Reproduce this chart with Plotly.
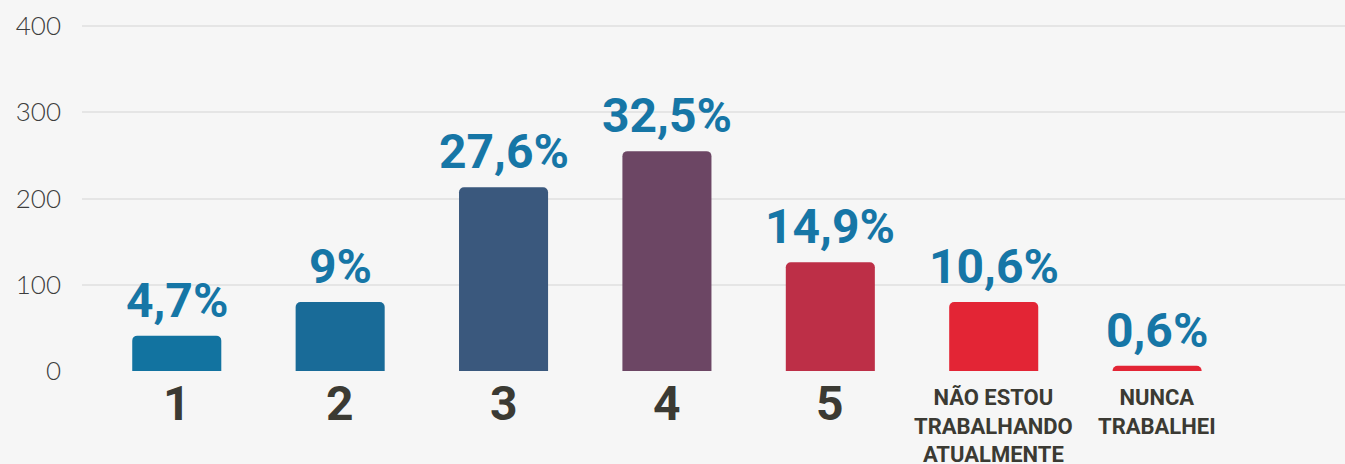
import plotly.graph_objects as go

# ---- data ----
cat_ids = ["c1", "c2", "c3", "c4", "c5", "nao", "nunca"]
cat_labels = ["1", "2", "3", "4", "5",
              "NÃO ESTOU<br>TRABALHANDO<br>ATUALMENTE",
              "NUNCA<br>TRABALHEI"]
values = [41, 80, 213, 255, 126, 80, 6]
pct_labels = ["4,7%", "9%", "27,6%", "32,5%", "14,9%", "10,6%", "0,6%"]
bar_colors = ["#1273a0", "#196b98", "#3a587d", "#6c4664", "#bd2f47", "#e32535", "#e32535"]
y_ticks = [0, 100, 200, 300, 400]

BG = "#f6f6f6"
BLUE = "#1676a6"
DARK = "#3b3a33"

fig = go.Figure()
fig.add_trace(go.Bar(
    x=cat_ids, y=values,
    marker=dict(color=bar_colors, line=dict(width=0)),
    hoverinfo="skip", showlegend=False,
))

annotations = []
for cid, v, p in zip(cat_ids, values, pct_labels):
    annotations.append(dict(
        x=cid, y=v, xref="x", yref="y", text=p, showarrow=False,
        yanchor="bottom", yshift=5,
        font=dict(family="Roboto", size=48, color=BLUE, weight=700),
    ))
for cid, lab in zip(cat_ids, cat_labels):
    big = "<br>" not in lab
    annotations.append(dict(
        x=cid, y=0, xref="x", yref="y", text=lab, showarrow=False,
        yanchor="top", yshift=-2 if big else -12,
        font=dict(family="Roboto", size=48 if big else 22, color=DARK, weight=700),
    ))

fig.update_layout(
    width=1345, height=464,
    margin=dict(l=82, r=0, t=24, b=93),
    paper_bgcolor=BG, plot_bgcolor=BG,
    bargap=0.455,
    barcornerradius=5,
    annotations=annotations,
    xaxis=dict(type="category", categoryorder="array", categoryarray=cat_ids,
               range=[-0.58, 7.15], showticklabels=False, showgrid=False,
               zeroline=False, showline=False, fixedrange=True),
    yaxis=dict(range=[0, 402.5], tickvals=y_ticks, showgrid=True,
               gridcolor="#e5e5e5", gridwidth=2,
               zeroline=True, zerolinecolor=BG, zerolinewidth=3,
               showline=False, ticks="", ticklabelstandoff=20,
               tickfont=dict(family="Lato", size=26, color="#3d3d3d", weight=300)),
)

fig.write_html("out.html", config={"displayModeBar": False},
               post_script="document.body.style.margin='0';")
